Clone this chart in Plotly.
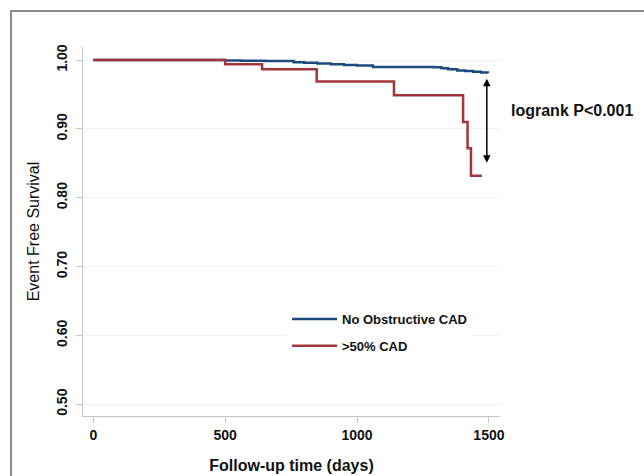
import plotly.graph_objects as go

# Data (Kaplan-Meier step curves)
blue_days = [0, 500, 560, 650, 760, 800, 850, 900, 950, 1000, 1060, 1290, 1320, 1345, 1380, 1410, 1440, 1470, 1496]
blue_surv = [1.0, 0.9995, 0.999, 0.9985, 0.997, 0.996, 0.995, 0.994, 0.993, 0.992, 0.990, 0.9895, 0.988, 0.9865, 0.985, 0.984, 0.983, 0.982, 0.981]

red_days = [0, 500, 640, 847, 1140, 1402, 1419, 1432, 1473]
red_surv = [1.0, 0.994, 0.9865, 0.969, 0.949, 0.910, 0.872, 0.832, 0.832]

x_ticks = [0, 500, 1000, 1500]
y_ticks = [0.50, 0.60, 0.70, 0.80, 0.90, 1.00]
y_tick_text = ["0.50", "0.60", "0.70", "0.80", "0.90", "1.00"]

series_names = ["No Obstructive CAD", ">50% CAD"]
series_colors = ["#1c4a7e", "#a2353b"]

arrow_day = 1492
arrow_top = 0.975
arrow_bottom = 0.851

FONT = "Arial, 'Liberation Sans', sans-serif"

L, R, T, B = 83, 144, 47, 60
W, H = 644, 476
pw, ph = W - L - R, H - T - B

def px2paper_x(px):
    return (px - L) / pw

def px2paper_y(py):
    return (H - B - py) / ph

fig = go.Figure()
fig.add_trace(go.Scatter(x=blue_days, y=blue_surv, mode="lines", line=dict(shape="hv", color=series_colors[0], width=2.5),
                         name=series_names[0], legendgroup="a"))
fig.add_trace(go.Scatter(x=red_days, y=red_surv, mode="lines", line=dict(shape="hv", color=series_colors[1], width=2.5),
                         name=series_names[1], legendgroup="b"))

fig.add_annotation(x=arrow_day, y=arrow_bottom, ax=arrow_day, ay=arrow_top, xref="x", yref="y", axref="x", ayref="y",
                   showarrow=True, arrowhead=2, startarrowhead=2, arrowside="end+start", arrowwidth=1.5,
                   arrowsize=1, startarrowsize=1, arrowcolor="black", text="")
fig.add_annotation(x=px2paper_x(509), y=px2paper_y(110), xref="paper", yref="paper", text="<b>logrank P<0.001</b>",
                   showarrow=False, font=dict(family=FONT, size=16, color="#111"), xanchor="left", yanchor="middle")

# outer frame
fig.add_shape(type="rect", xref="paper", yref="paper", x0=px2paper_x(11), x1=px2paper_x(680),
              y0=px2paper_y(500), y1=px2paper_y(11), line=dict(color="#666", width=1.5), layer="below")

fig.update_layout(
    width=W, height=H,
    margin=dict(l=L, r=R, t=T, b=B, autoexpand=False),
    paper_bgcolor="white", plot_bgcolor="white",
    font=dict(family=FONT, color="#111"),
    showlegend=True,
    legend=dict(x=px2paper_x(287), y=px2paper_y(304), xanchor="left", yanchor="top",
                bgcolor="white", font=dict(family=FONT, size=13, color="#111", weight="bold"),
                tracegroupgap=7, traceorder="grouped", itemwidth=45),
    xaxis=dict(range=[-39, 1542], tickvals=x_ticks, ticktext=[str(v) for v in x_ticks], automargin=False,
               showgrid=False, zeroline=False, showline=True, linecolor="#c4c4c4", linewidth=1,
               ticks="outside", ticklen=6, tickcolor="#c4c4c4",
               tickfont=dict(family=FONT, size=14, color="#111", weight="bold"),
               title=dict(text="<b>Follow-up time (days)</b>", font=dict(family=FONT, size=16, color="#111"), standoff=18)),
    yaxis=dict(range=[0.483, 1.019], tickvals=y_ticks, ticktext=y_tick_text, tickangle=-90, automargin=False,
               showgrid=True, gridcolor="#f2f2f2", gridwidth=1, zeroline=False,
               showline=True, linecolor="#c4c4c4", linewidth=1,
               ticks="outside", ticklen=6, tickcolor="#c4c4c4", ticklabelstandoff=3,
               tickfont=dict(family=FONT, size=14, color="#111", weight="bold"),
               title=dict(text="Event Free Survival", font=dict(family=FONT, size=16, color="#111"), standoff=10)),
)

fig.write_html("out.html", config={"displayModeBar": False},
               post_script="document.body.style.margin='0px';document.body.style.overflow='hidden';")
